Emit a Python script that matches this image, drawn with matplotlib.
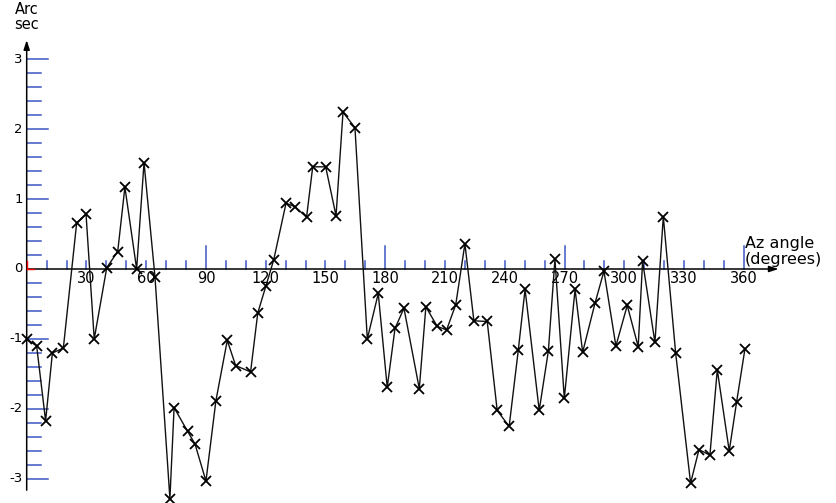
import matplotlib
matplotlib.use("Agg")
import matplotlib.pyplot as plt
import numpy as np

# Azimuth angle (degrees) and measured error (arc seconds)
azimuth = [0, 5.0, 9.5, 12.9, 18.4, 25.1, 29.8, 33.9, 40.2, 45.7,
           49.3, 55.2, 58.9, 64.4, 71.9, 74.0, 80.8, 84.5, 90.0, 95.0,
           100.7, 104.9, 112.4, 116.0, 120.0, 124.0, 130.2, 134.7, 140.5, 143.6,
           150.1, 155.3, 158.8, 164.8, 171.0, 176.5, 181.0, 184.9, 189.4, 197.1,
           200.4, 206.1, 210.8, 215.4, 220.0, 224.5, 231.2, 236.2, 242.2, 246.8,
           250.2, 257.3, 261.9, 265.2, 269.9, 275.3, 279.1, 285.3, 289.8, 295.8,
           301.5, 307.0, 309.2, 315.4, 319.6, 325.8, 333.3, 337.5, 343.0, 346.7,
           352.7, 356.4, 360.6]
arcsec = [-1.00, -1.10, -2.17, -1.20, -1.13, 0.66, 0.78, -1.00, 0.02, 0.25,
          1.17, 0.00, 1.52, -0.11, -3.28, -1.98, -2.32, -2.50, -3.03, -1.88,
          -1.02, -1.38, -1.47, -0.63, -0.25, 0.13, 0.94, 0.89, 0.74, 1.46,
          1.46, 0.76, 2.24, 2.02, -1.00, -0.35, -1.69, -0.85, -0.56, -1.71,
          -0.54, -0.82, -0.87, -0.51, 0.36, -0.74, -0.75, -2.02, -2.25, -1.16,
          -0.29, -2.02, -1.17, 0.14, -1.85, -0.29, -1.19, -0.49, -0.03, -1.10,
          -0.52, -1.11, 0.11, -1.05, 0.75, -1.20, -3.06, -2.58, -2.66, -1.44,
          -2.60, -1.90, -1.14]

# Axis ticks
x_minor = list(range(10, 361, 10))
x_major = [90, 180, 270, 360]
x_labels = [30, 60, 90, 120, 150, 180, 210, 240, 270, 300, 330, 360]
y_minor = [round(v * 0.2, 1) for v in range(-15, 16)]
y_major = [-3, -2, -1, 0, 1, 2, 3]

TICK = "#3f56c4"
FONT = ["DejaVu Sans"]

fig = plt.figure(figsize=(8.36, 5.03), dpi=100)
ax = fig.add_axes([0, 0, 1, 1])
ax.set_xlim(-13.4, 406.3)
ax.set_ylim(-3.343, 3.843)
ax.set_axis_off()

# Main axes with arrow heads
ax.annotate("", xy=(377.5, 0), xytext=(0, 0),
            arrowprops=dict(arrowstyle="-|>,head_length=0.55,head_width=0.18",
                            color="black", lw=1.1, shrinkA=0, shrinkB=0))
ax.annotate("", xy=(0, 3.27), xytext=(0, -3.16),
            arrowprops=dict(arrowstyle="-|>,head_length=0.55,head_width=0.18",
                            color="black", lw=1.1, shrinkA=0, shrinkB=0))

# Small red mark at the origin
ax.plot([0, 0], [0, 0.11], color="red", lw=1.0, zorder=3)
ax.plot([0, 3.5], [0, 0], color="red", lw=1.0, zorder=3)

# X ticks: short every 10 degrees, tall at quadrants
for xv in x_minor:
    h = 0.33 if xv in x_major else 0.115
    ax.plot([xv, xv], [0, h], color=TICK, lw=1.1, zorder=2)
for xv in x_labels:
    ax.text(xv, -0.13, str(xv), ha="center", va="center",
            fontsize=10.5, family=FONT, color="black")

# Y ticks: longer at integers, short every 0.2
for yv in y_minor:
    if yv == 0:
        continue
    ln = 10.5 if abs(yv - round(yv)) < 1e-9 else 7.0
    ax.plot([0, ln], [yv, yv], color=TICK, lw=1.1, zorder=2)
for yv in y_major:
    ax.text(-1.9, yv, str(yv), ha="right", va="center",
            fontsize=9.5, family=FONT, color="black")

# Axis titles
ax.text(0, 3.82, "Arc", ha="center", va="top", fontsize=10.5, family=FONT)
ax.text(0, 3.60, "sec", ha="center", va="top", fontsize=10.5, family=FONT)
ax.text(360.5, 0.37, "Az angle", ha="left", va="center", fontsize=11.5, family=FONT)
ax.text(360.5, 0.13, "(degrees)", ha="left", va="center", fontsize=11.5, family=FONT)

# Data series
ax.plot(azimuth, arcsec, color="#111111", lw=1.0, marker="x", ms=7,
        mew=1.3, mec="black", zorder=4)

fig.savefig("out.png", dpi=100)
